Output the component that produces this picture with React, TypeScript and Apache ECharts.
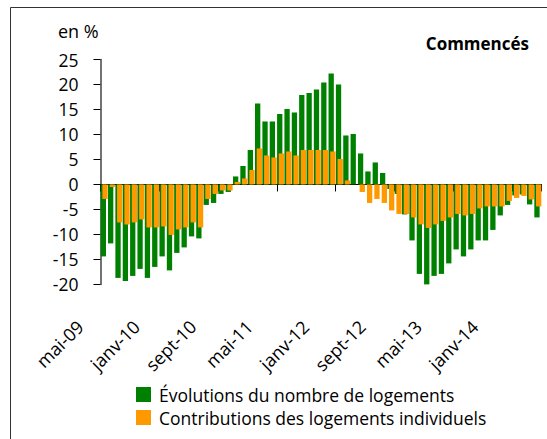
import React, { useEffect, useRef } from "react";
import * as echarts from "echarts";

const categories = [
  "mai-09", "juin-09", "juil-09", "août-09", "sept-09", "oct-09", "nov-09", "déc-09",
  "janv-10", "févr-10", "mars-10", "avr-10", "mai-10", "juin-10", "juil-10", "août-10", "sept-10", "oct-10", "nov-10", "déc-10",
  "janv-11", "févr-11", "mars-11", "avr-11", "mai-11", "juin-11", "juil-11", "août-11", "sept-11", "oct-11", "nov-11", "déc-11",
  "janv-12", "févr-12", "mars-12", "avr-12", "mai-12", "juin-12", "juil-12", "août-12", "sept-12", "oct-12", "nov-12", "déc-12",
  "janv-13", "févr-13", "mars-13", "avr-13", "mai-13", "juin-13", "juil-13", "août-13", "sept-13", "oct-13", "nov-13", "déc-13",
  "janv-14", "févr-14", "mars-14", "avr-14",
];

const evolutions = [
  -14.4, -11.8, -18.7, -19.3, -18.3, -16.9, -18.7, -16.5, -14.4, -17.2,
  -13.7, -12.6, -10.4, -10.8, -4.1, -3.7, -1.9, -1.5, 1.6, 3.7,
  6.9, 16.2, 12.6, 12.6, 14.1, 15.1, 14.4, 17.9, 18.3, 19.0,
  20.4, 22.2, 20.0, 9.8, 10.1, 6.2, 2.6, 4.4, 2.3, -0.9,
  -1.9, -6.0, -11.2, -17.9, -20.1, -18.3, -17.9, -15.8, -13.0, -14.4,
  -13.0, -11.2, -11.2, -9.1, -6.2, -4.1, -2.2, -2.0, -4.0, -6.6,
];

const contributions = [
  -2.9, -0.5, -7.6, -8.0, -7.6, -7.0, -8.6, -8.6, -8.4, -10.1,
  -9.0, -8.6, -7.6, -8.6, -2.9, -1.9, -1.2, -1.2, 0.5, 1.2,
  2.9, 7.2, 5.8, 5.4, 6.2, 6.6, 5.8, 6.9, 6.9, 6.9,
  6.9, 6.6, 5.1, 0.8, 0.0, -1.5, -3.7, -2.9, -3.7, -5.2,
  -5.9, -5.9, -6.6, -8.0, -8.7, -8.0, -7.3, -6.6, -5.9, -6.2,
  -5.9, -4.8, -4.4, -4.4, -4.4, -3.3, -2.7, -2.3, -3.0, -4.4,
];

const seriesNames = ["Évolutions du nombre de logements", "Contributions des logements individuels"];
const yMin = -20;
const yMax = 25;
const yStep = 5;
const labelEvery = 8;

const FONT = "'Open Sans', sans-serif";

export default function App() {
  const ref = useRef<HTMLDivElement>(null);

  useEffect(() => {
    const chart = echarts.init(ref.current!, null, { renderer: "svg" });
    const top = 59.5;
    const bottom = 154.6;
    chart.setOption({
      animation: false,
      backgroundColor: "#ffffff",
      textStyle: { fontFamily: FONT, color: "#000" },
      grid: [
        { left: 100.5, right: 5.5, top, bottom, containLabel: false },
        { left: 76.5, width: 423, top, bottom, containLabel: false },
      ],
      xAxis: [
        {
          type: "category",
          gridIndex: 0,
          data: categories,
          boundaryGap: true,
          axisLine: { onZero: true, lineStyle: { color: "#000", width: 1 } },
          axisTick: { show: true, interval: labelEvery - 1, length: 7, lineStyle: { color: "#000" } },
          axisLabel: { show: false },
          splitLine: { show: false },
        },
        {
          type: "category",
          gridIndex: 1,
          position: "bottom",
          data: categories,
          boundaryGap: true,
          axisLine: { show: false, onZero: false },
          axisTick: { show: false },
          axisLabel: {
            show: true,
            interval: labelEvery - 1,
            rotate: 45,
            margin: 39,
            fontSize: 18,
            fontFamily: FONT,
            color: "#000",
          },
          splitLine: { show: false },
        },
      ],
      yAxis: [
        {
          type: "value",
          gridIndex: 0,
          min: yMin,
          max: yMax,
          interval: yStep,
          axisLine: { show: true, lineStyle: { color: "#444", width: 1.5 } },
          axisTick: { show: true, length: 7, lineStyle: { color: "#000" } },
          axisLabel: { fontSize: 17.5, fontFamily: FONT, color: "#000", margin: 22 },
          splitLine: { show: false },
        },
        {
          type: "value",
          gridIndex: 1,
          min: yMin,
          max: yMax,
          show: false,
        },
      ],
      legend: {
        orient: "vertical",
        left: 136,
        top: 385,
        padding: 0,
        itemWidth: 15,
        itemHeight: 15,
        itemGap: 4,
        icon: "rect",
        textStyle: { fontSize: 17.5, fontFamily: FONT, color: "#000", lineHeight: 19, padding: [0, 0, 0, 3] },
        data: seriesNames,
      },
      series: [
        {
          name: seriesNames[0],
          type: "bar",
          xAxisIndex: 0,
          yAxisIndex: 0,
          data: evolutions,
          barWidth: 5.3,
          barGap: "-68%",
          itemStyle: { color: "#008000" },
        },
        {
          name: seriesNames[1],
          type: "bar",
          xAxisIndex: 0,
          yAxisIndex: 0,
          data: contributions,
          barWidth: 5.3,
          barGap: "-68%",
          itemStyle: { color: "#ff9900" },
        },
      ],
      graphic: [
        { type: "line", shape: { x1: 10.5, y1: 7.5, x2: 547, y2: 7.5 }, style: { stroke: "#333", lineWidth: 1 } },
        { type: "line", shape: { x1: 10.5, y1: 7.5, x2: 10.5, y2: 439 }, style: { stroke: "#333", lineWidth: 1 } },
        { type: "text", left: 58, top: 22, style: { text: "en %", fontSize: 18, fontFamily: FONT, fill: "#000" } },
        { type: "text", right: 18, top: 35, style: { text: "Commencés", fontSize: 17, fontWeight: "bold", fontFamily: FONT, fill: "#000" } },
      ],
    });
    return () => chart.dispose();
  }, []);

  return (
    <div
      ref={ref}
      style={{ position: "fixed", left: 0, top: 0, width: 547, height: 439, background: "#fff" }}
    />
  );
}
